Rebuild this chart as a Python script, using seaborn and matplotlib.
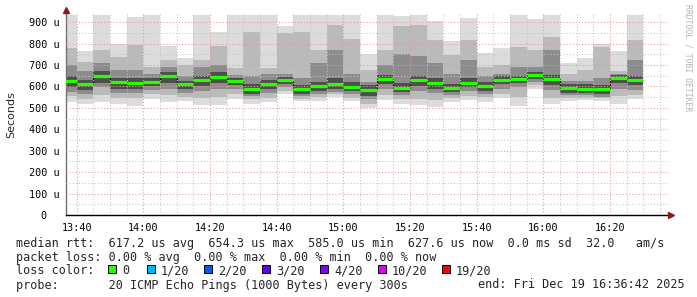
import numpy as np
import pandas as pd
import matplotlib
matplotlib.use("Agg")
import matplotlib.pyplot as plt
from matplotlib.patches import Rectangle
import seaborn as sns

# ---- data (times = end of each 5-minute step, minutes after 13:00) ----
step_end_min = list(range(40, 211, 5))          # 13:40 ... 16:30
rtt_median = [623, 609, 647, 620, 614, 620, 647, 609, 628, 644, 625, 586, 611, 628, 586,
              600, 611, 598, 585.0, 636, 594, 630, 616, 594, 616, 603, 628, 636, 654.3, 633,
              592, 589, 589, 638, 627.6]
rtt_max = [933, 765, 933, 797, 923, 933, 788, 732, 933, 854, 933, 933, 933, 881, 933,
           933, 933, 933, 751, 933, 928, 933, 905, 812, 919, 757, 779, 933, 914, 933,
           707, 734, 796, 765, 933]
rtt_p90 = [778, 715, 770, 739, 793, 690, 723, 700, 723, 790, 684, 855, 684, 850, 855,
           770, 886, 823, 676, 770, 880, 886, 816, 746, 816, 692, 700, 786, 770, 832,
           660, 676, 785, 670, 816]
rtt_p75 = [700, 670, 707, 676, 676, 660, 690, 650, 690, 700, 655, 650, 660, 660, 640,
           710, 770, 660, 620, 700, 750, 740, 707, 660, 723, 650, 660, 690, 690, 770,
           625, 625, 640, 660, 723]
rtt_p65 = [650, 630, 670, 640, 640, 640, 665, 625, 650, 665, 640, 610, 630, 645, 605,
           620, 640, 620, 605, 655, 615, 650, 640, 610, 640, 620, 650, 650, 668, 655,
           610, 612, 608, 655, 648]
rtt_p35 = [595, 585, 615, 590, 590, 600, 615, 590, 600, 615, 605, 565, 590, 610, 565,
           580, 590, 580, 555, 610, 575, 600, 590, 575, 595, 580, 610, 615, 635, 605,
           570, 570, 565, 615, 605]
rtt_p25 = [575, 565, 595, 570, 570, 585, 590, 570, 580, 590, 590, 555, 570, 595, 555,
           565, 575, 565, 540, 590, 560, 580, 570, 560, 580, 565, 590, 595, 620, 585,
           560, 560, 550, 590, 585]
rtt_p10 = [555, 540, 560, 545, 545, 565, 560, 552, 545, 550, 565, 540, 545, 578, 540,
           550, 565, 548, 520, 560, 540, 540, 535, 545, 555, 550, 565, 550, 605, 545,
           548, 548, 545, 555, 560]
rtt_min = [528, 516, 528, 516, 510, 541, 528, 531, 513, 513, 541, 519, 528, 563, 530,
           530, 550, 532, 498, 536, 519, 513, 504, 528, 536, 528, 545, 510, 590, 520,
           533, 536, 531, 518, 539]

y_ticks = [0, 100, 200, 300, 400, 500, 600, 700, 800, 900]
y_tick_labels = ["0  ", "100 u", "200 u", "300 u", "400 u", "500 u", "600 u",
                 "700 u", "800 u", "900 u"]
x_ticks = [40, 60, 80, 100, 120, 140, 160, 180, 200]
x_tick_labels = ["13:40", "14:00", "14:20", "14:40", "15:00", "15:20", "15:40",
                 "16:00", "16:20"]

loss_labels = ["0", "1/20", "2/20", "3/20", "4/20", "10/20", "19/20"]
loss_colors = ["#26ff00", "#00b8ff", "#0059ff", "#5e00ff", "#7e00ff", "#dd00ff", "#ff0000"]

row_rtt = "median rtt:  617.2 us avg  654.3 us max  585.0 us min  627.6 us now  0.0 ms sd  32.0   am/s"
row_loss = "packet loss: 0.00 % avg  0.00 % max  0.00 % min  0.00 % now"
row_probe = "probe:       20 ICMP Echo Pings (1000 Bytes) every 300s"
row_end = "end: Fri Dec 19 16:36:42 2025"

# ---- figure ----
sns.set_style("white")
plt.rcParams["font.family"] = ["DejaVu Sans"]

W, H = 697, 297
fig = plt.figure(figsize=(W / 100, H / 100), dpi=100)
fig.patch.set_facecolor("white")

def fx(px):
    return px / W

def fy(py):
    return 1 - py / H

ax_left, ax_right, ax_bottom, ax_top = 65.7, 669.0, 215.0, 13.5
ax = fig.add_axes([fx(ax_left), fy(ax_bottom), fx(ax_right - ax_left), (ax_bottom - ax_top) / H])
ax.set_facecolor("white")

df = pd.DataFrame({
    "end": step_end_min, "median": rtt_median, "max": rtt_max, "p90": rtt_p90,
    "p75": rtt_p75, "p65": rtt_p65, "p35": rtt_p35, "p25": rtt_p25,
    "p10": rtt_p10, "min": rtt_min,
})
df["start"] = df["end"] - 5

bands = [("min", "max", "#dcdcdc"), ("p10", "p90", "#bababa"),
         ("p25", "p75", "#8c8c8c"), ("p35", "p65", "#4e4e4e")]
for lo, hi, col in bands:
    ax.bar(df["start"], df[hi] - df[lo], width=5, bottom=df[lo], align="edge",
           color=col, linewidth=0, zorder=1)

# median step line (black risers) + green loss-coloured segments
sns.lineplot(data=df, x="end", y="median", drawstyle="steps-pre", estimator=None,
             color="#111111", lw=0.8, ax=ax, zorder=2)
ax.hlines(df["median"], df["start"], df["end"], colors=loss_colors[0], lw=2.3, zorder=3)

ax.set_xlim(36.7, 217.7)
ax.set_ylim(0, 940)

# grid
ax.set_xticks(x_ticks)
ax.set_xticks(list(range(40, 216, 5)), minor=True)
ax.set_yticks(y_ticks)
ax.set_yticks(list(range(50, 940, 50)), minor=True)
ax.grid(which="minor", color="#c4c4c4", linestyle=(0, (1, 2)), lw=0.75, zorder=2.5)
ax.grid(which="major", color="#e39a9a", linestyle=(0, (1, 2)), lw=0.75, zorder=2.6)
ax.set_axisbelow(False)

ax.set_xticklabels(x_tick_labels, family="DejaVu Sans Mono", fontsize=7.3)
ax.set_yticklabels(y_tick_labels, family="DejaVu Sans Mono", fontsize=7.3)
ax.tick_params(axis="both", which="both", direction="out", length=2, width=0.7,
               colors="#555555", labelcolor="black", pad=2.5)
ax.tick_params(axis="x", which="major", length=3)
ax.set_xlabel("")
ax.set_ylabel("")

for s in ["top", "right"]:
    ax.spines[s].set_visible(False)
ax.spines["left"].set_color("#707070")
ax.spines["left"].set_linewidth(1.0)
ax.spines["bottom"].set_color("#000000")
ax.spines["bottom"].set_linewidth(1.0)

# axis arrows
ax.plot([0], [1.015], marker="^", color="#8b1a1a", markersize=4.5, transform=ax.transAxes,
        clip_on=False, zorder=5)
ax.plot([0, 0], [1.0, 1.015], color="#707070", lw=1.0, transform=ax.transAxes, clip_on=False)
ax.plot([1.003], [0], marker=">", color="#8b1a1a", markersize=4.5, transform=ax.transAxes,
        clip_on=False, zorder=5)

fig.text(fx(11), fy(115), "Seconds", rotation=90, ha="center", va="center",
         fontsize=8, family="DejaVu Sans")
fig.text(fx(688), fy(4), "RRDTOOL / TOBI OETIKER", rotation=-90, ha="center", va="top",
         fontsize=5.9, family="DejaVu Sans Mono", color="#b4b4b4")

mono = dict(family="DejaVu Sans Mono", fontsize=8.5, va="center_baseline", ha="left")
fig.text(fx(16), fy(241.5), row_rtt, **mono)
fig.text(fx(16), fy(255.5), row_loss, **mono)
fig.text(fx(16), fy(269.5), "loss color:", **mono)
fig.text(fx(16), fy(283.5), row_probe, **mono)
fig.text(fx(478), fy(283.5), row_end, **mono)

box_x = [108, 147, 204, 262, 320, 378, 442]
for bx, lab, col in zip(box_x, loss_labels, loss_colors):
    fig.patches.append(Rectangle((fx(bx), fy(273)), fx(8), 8 / H, transform=fig.transFigure,
                                 facecolor=col, edgecolor="black", lw=0.7))
    fig.text(fx(bx + 14), fy(269.5), lab, **mono)

fig.savefig("out.png", dpi=100, facecolor="white")
